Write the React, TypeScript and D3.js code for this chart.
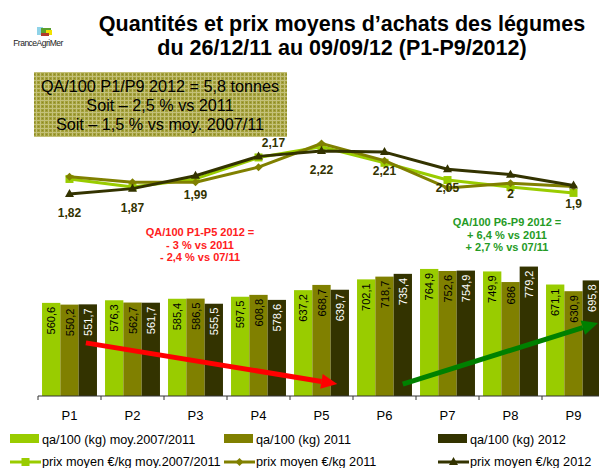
import React from 'react';
import * as d3 from 'd3';

// Periods and series
const categories = ['P1', 'P2', 'P3', 'P4', 'P5', 'P6', 'P7', 'P8', 'P9'];
const qaMoy = [560.6, 576.3, 585.4, 597.5, 637.2, 702.1, 764.9, 749.9, 671.1];
const qa2011 = [550.2, 562.7, 586.5, 608.8, 668.7, 718.7, 752.6, 686, 630.9];
const qa2012 = [551.7, 561.7, 555.5, 578.6, 639.7, 735.4, 754.9, 779.2, 695.8];
const prixMoy = [1.96, 1.885, 1.96, 2.16, 2.26, 2.11, 1.95, 1.885, 1.83];
const prix2011 = [1.98, 1.93, 1.93, 2.07, 2.29, 2.13, 1.876, 1.92, 1.89];
const prix2012 = [1.82, 1.87, 1.99, 2.17, 2.22, 2.21, 2.05, 2, 1.9];
const prix2012Labels = ['1,82', '1,87', '1,99', '2,17', '2,22', '2,21', '2,05', '2', '1,9'];

const titleLines = ['Quantités et prix moyens d’achats des légumes', 'du 26/12/11 au 09/09/12 (P1-P9/2012)'];
const boxLines = ['QA/100 P1/P9 2012 = 5,8 tonnes', 'Soit – 2,5 % vs 2011', 'Soit – 1,5 % vs moy. 2007/11'];
const redNote = ['QA/100 P1-P5 2012 =', '- 3 % vs 2011', '- 2,4 % vs 07/11'];
const greenNote = ['QA/100 P6-P9 2012 =', '+ 6,4 % vs 2011', '+ 2,7 % vs 07/11'];

const LIGHT = '#99CC00';
const OLIVE = '#808000';
const DARK = '#333300';
const FONT = '"Liberation Sans", Arial, sans-serif';

const barSeries = [
  { name: 'qa/100 (kg) moy.2007/2011', values: qaMoy, color: LIGHT, text: '#000' },
  { name: 'qa/100 (kg) 2011', values: qa2011, color: OLIVE, text: '#000' },
  { name: 'qa/100 (kg) 2012', values: qa2012, color: DARK, text: '#fff' },
];
const lineSeries = [
  { name: 'prix moyen €/kg moy.2007/2011', values: prixMoy, color: LIGHT, marker: 'square' },
  { name: 'prix moyen €/kg 2011', values: prix2011, color: OLIVE, marker: 'diamond' },
  { name: 'prix moyen €/kg 2012', values: prix2012, color: DARK, marker: 'triangle' },
];

// trend arrows: [category, fraction of band, quantity]
const arrows = [
  { color: '#FF0000', from: ['P1', 0.76, 320], to: ['P5', 0.75, 72] },
  { color: '#008000', from: ['P6', 0.79, 72], to: ['P9', 0.89, 440] },
];

const Marker = ({ type, x, y, color }: any) => {
  if (type === 'square') return <rect x={x - 4} y={y - 4} width={8} height={8} fill={color} />;
  if (type === 'diamond') return <path d={`M${x},${y - 4}L${x + 4},${y}L${x},${y + 4}L${x - 4},${y}Z`} fill={color} />;
  return <path d={`M${x},${y - 5}L${x + 4.5},${y + 3}L${x - 4.5},${y + 3}Z`} fill={color} />;
};

export default function App() {
  const width = 599;
  const height = 468;
  const baseline = 396;

  const x = d3.scaleBand().domain(categories).range([38, 605]);
  const xSub = d3.scaleBand<number>().domain([0, 1, 2]).range([0, x.bandwidth()]).paddingOuter(0.22);
  const yBar = d3.scaleLinear().domain([0, 900]).range([baseline, 246.5]);
  const yPrice = d3.scaleLinear().domain([1.5, 2.5]).range([228.4, 120.9]);
  const cx = (i: number) => (x(categories[i]) as number) + x.bandwidth() / 2;

  const line = d3.line<number>().x((_, i) => cx(i)).y((d) => yPrice(d));
  const ticks = categories.map((c) => x(c) as number).concat([605]);

  const pt = (p: any) => [(x(p[0]) as number) + p[1] * x.bandwidth(), yBar(p[2])];

  return (
    <svg width={width} height={height} style={{ position: 'absolute', left: 0, top: 0, fontFamily: FONT }}>
      <defs>
        <pattern id="weave" width="4" height="4" patternUnits="userSpaceOnUse">
          <rect width="4" height="4" fill="#A3A03A" />
          <rect width="4" height="1" fill="#C4C17A" />
          <rect width="1" height="4" fill="#C4C17A" />
          <rect x="2" y="2" width="1" height="1" fill="#8A8725" />
        </pattern>
      </defs>
      <rect width={width} height={height} fill="#fff" />

      {/* logo */}
      <g>
        <rect x={37} y={27} width={6} height={8} fill="#8FD3E8" />
        <rect x={41} y={28} width={10} height={7} fill="#5AA02C" />
        <rect x={46} y={30} width={6} height={5} fill="#F2E200" />
        <rect x={41} y={33} width={8} height={3} fill="#B23A2A" />
        <text x={38} y={46} fontSize={8.5} textAnchor="middle" letterSpacing={-0.5} fill="#222">FranceAgriMer</text>
      </g>

      {/* title */}
      {titleLines.map((t, i) => (
        <text key={t} x={342} y={31 + i * 24} fontSize={21.5} fontWeight="bold" textAnchor="middle" fill="#000">{t}</text>
      ))}

      {/* info box */}
      <rect x={34} y={72} width={253} height={65} fill="url(#weave)" />
      {boxLines.map((t, i) => (
        <text key={t} x={160} y={92 + i * 19} fontSize={16.2} textAnchor="middle" fill="#000">{t}</text>
      ))}

      {/* bars */}
      {barSeries.map((s, si) => (
        <g key={s.name}>
          {s.values.map((v, i) => {
            const bx = (x(categories[i]) as number) + (xSub(si) as number);
            const by = yBar(v);
            return (
              <g key={i}>
                <rect x={bx} y={by} width={xSub.bandwidth()} height={baseline - by} fill={s.color} />
                <text transform={`translate(${bx + xSub.bandwidth() / 2 + 4},${by + 4}) rotate(-90)`}
                  fontSize={11} textAnchor="end" fill={s.text}>{String(v).replace('.', ',')}</text>
              </g>
            );
          })}
        </g>
      ))}

      {/* trend arrows */}
      {arrows.map((a) => {
        const [x1, y1] = pt(a.from);
        const [x2, y2] = pt(a.to);
        const ang = Math.atan2(y2 - y1, x2 - x1);
        const L = 16, W = 7.5;
        const bx = x2 - L * Math.cos(ang), by = y2 - L * Math.sin(ang);
        const nx = -Math.sin(ang) * W, ny = Math.cos(ang) * W;
        return (
          <g key={a.color}>
            <line x1={x1} y1={y1} x2={bx} y2={by} stroke={a.color} strokeWidth={5} />
            <path d={`M${x2},${y2}L${bx + nx},${by + ny}L${bx - nx},${by - ny}Z`} fill={a.color} />
          </g>
        );
      })}

      {/* axis */}
      <line x1={38} x2={605} y1={baseline} y2={baseline} stroke="#333" strokeWidth={1} />
      {ticks.map((t) => (
        <line key={t} x1={t} x2={t} y1={baseline} y2={baseline + 4} stroke="#333" strokeWidth={1} />
      ))}
      {categories.map((c, i) => (
        <text key={c} x={cx(i)} y={420} fontSize={13} textAnchor="middle" fill="#000">{c}</text>
      ))}

      {/* price lines */}
      {lineSeries.map((s) => (
        <g key={s.name}>
          <path d={line(s.values) as string} fill="none" stroke={s.color} strokeWidth={3} strokeLinejoin="round" />
          {s.values.map((v, i) => (
            <Marker key={i} type={s.marker} x={cx(i)} y={yPrice(v)} color={s.color} />
          ))}
        </g>
      ))}
      {prix2012.map((v, i) => {
        const above = i === 3;
        return (
          <text key={i} x={cx(i) + (above ? 15 : 0)} y={yPrice(v) + (above ? -9 : 23)} fontSize={12}
            fontWeight="bold" textAnchor="middle" fill="#333300">{prix2012Labels[i]}</text>
        );
      })}

      {/* notes */}
      {redNote.map((t, i) => (
        <text key={t} x={200} y={236 + i * 12.5} fontSize={11} fontWeight="bold" textAnchor="middle" fill="#FF2020">{t}</text>
      ))}
      {greenNote.map((t, i) => (
        <text key={t} x={507} y={226 + i * 12.5} fontSize={11} fontWeight="bold" textAnchor="middle" fill="#259B25">{t}</text>
      ))}

      {/* legend */}
      {barSeries.map((s, i) => {
        const lx = [10, 224, 438][i];
        return (
          <g key={s.name}>
            <rect x={lx} y={434} width={29} height={9} fill={s.color} />
            <text x={lx + 32} y={444} fontSize={12.7} fill="#000">{s.name}</text>
          </g>
        );
      })}
      {lineSeries.map((s, i) => {
        const lx = [10, 224, 438][i];
        return (
          <g key={s.name}>
            <line x1={lx} x2={lx + 31} y1={462} y2={462} stroke={s.color} strokeWidth={3} />
            <Marker type={s.marker} x={lx + 15.5} y={462} color={s.color} />
            <text x={lx + 32} y={466} fontSize={12.7} fill="#000">{s.name}</text>
          </g>
        );
      })}
    </svg>
  );
}
